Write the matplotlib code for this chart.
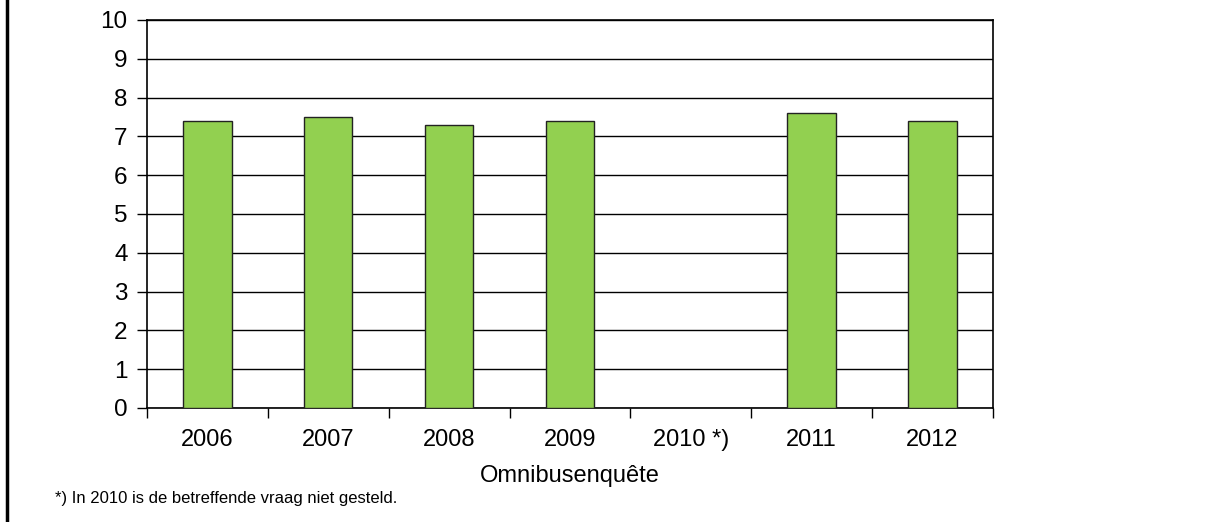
import numpy as np
import matplotlib
matplotlib.use("Agg")
import matplotlib.pyplot as plt
from matplotlib.lines import Line2D

years = ["2006", "2007", "2008", "2009", "2010 *)", "2011", "2012"]
scores = [7.4, 7.5, 7.3, 7.4, np.nan, 7.6, 7.4]
yticks = list(range(0, 11))

plt.rcParams["font.family"] = ["Liberation Sans", "DejaVu Sans"]

fg = plt.figure(figsize=(12.05, 5.22), dpi=100)
ax = fg.add_axes([0.122, 0.2184, 0.702, 0.7433])

x = np.arange(len(years))
ax.bar(x, np.nan_to_num(scores), width=0.4, color="#92D050",
       edgecolor="#222222", linewidth=1.0, zorder=3)

ax.set_xlim(-0.5, len(years) - 0.5)
ax.set_ylim(0, 10)
ax.set_yticks(yticks)
ax.yaxis.grid(True, color="black", linewidth=1.0, zorder=0)
ax.set_axisbelow(True)

# category labels centred, tick marks on the boundaries
ax.set_xticks(x)
ax.set_xticklabels(years, fontsize=17)
ax.tick_params(axis="x", which="major", length=0, pad=15)
ax.set_xticks(np.arange(len(years) + 1) - 0.5, minor=True)
ax.tick_params(axis="x", which="minor", length=7, width=1.0, direction="out")
ax.tick_params(axis="y", labelsize=17.5, length=7, width=1.0, pad=7)

for s in ax.spines.values():
    s.set_linewidth(1.2)
    s.set_color("black")

ax.set_xlabel("Omnibusenquête", fontsize=17, labelpad=10)

fg.text(0.0456, 0.036, "*) In 2010 is de betreffende vraag niet gesteld.",
        fontsize=12, ha="left", va="baseline")

# thick frame line along the left edge
fg.add_artist(Line2D([0.0054, 0.0054], [0, 1], transform=fg.transFigure,
                     color="black", linewidth=2.5))

fg.savefig("out.png", dpi=100)
